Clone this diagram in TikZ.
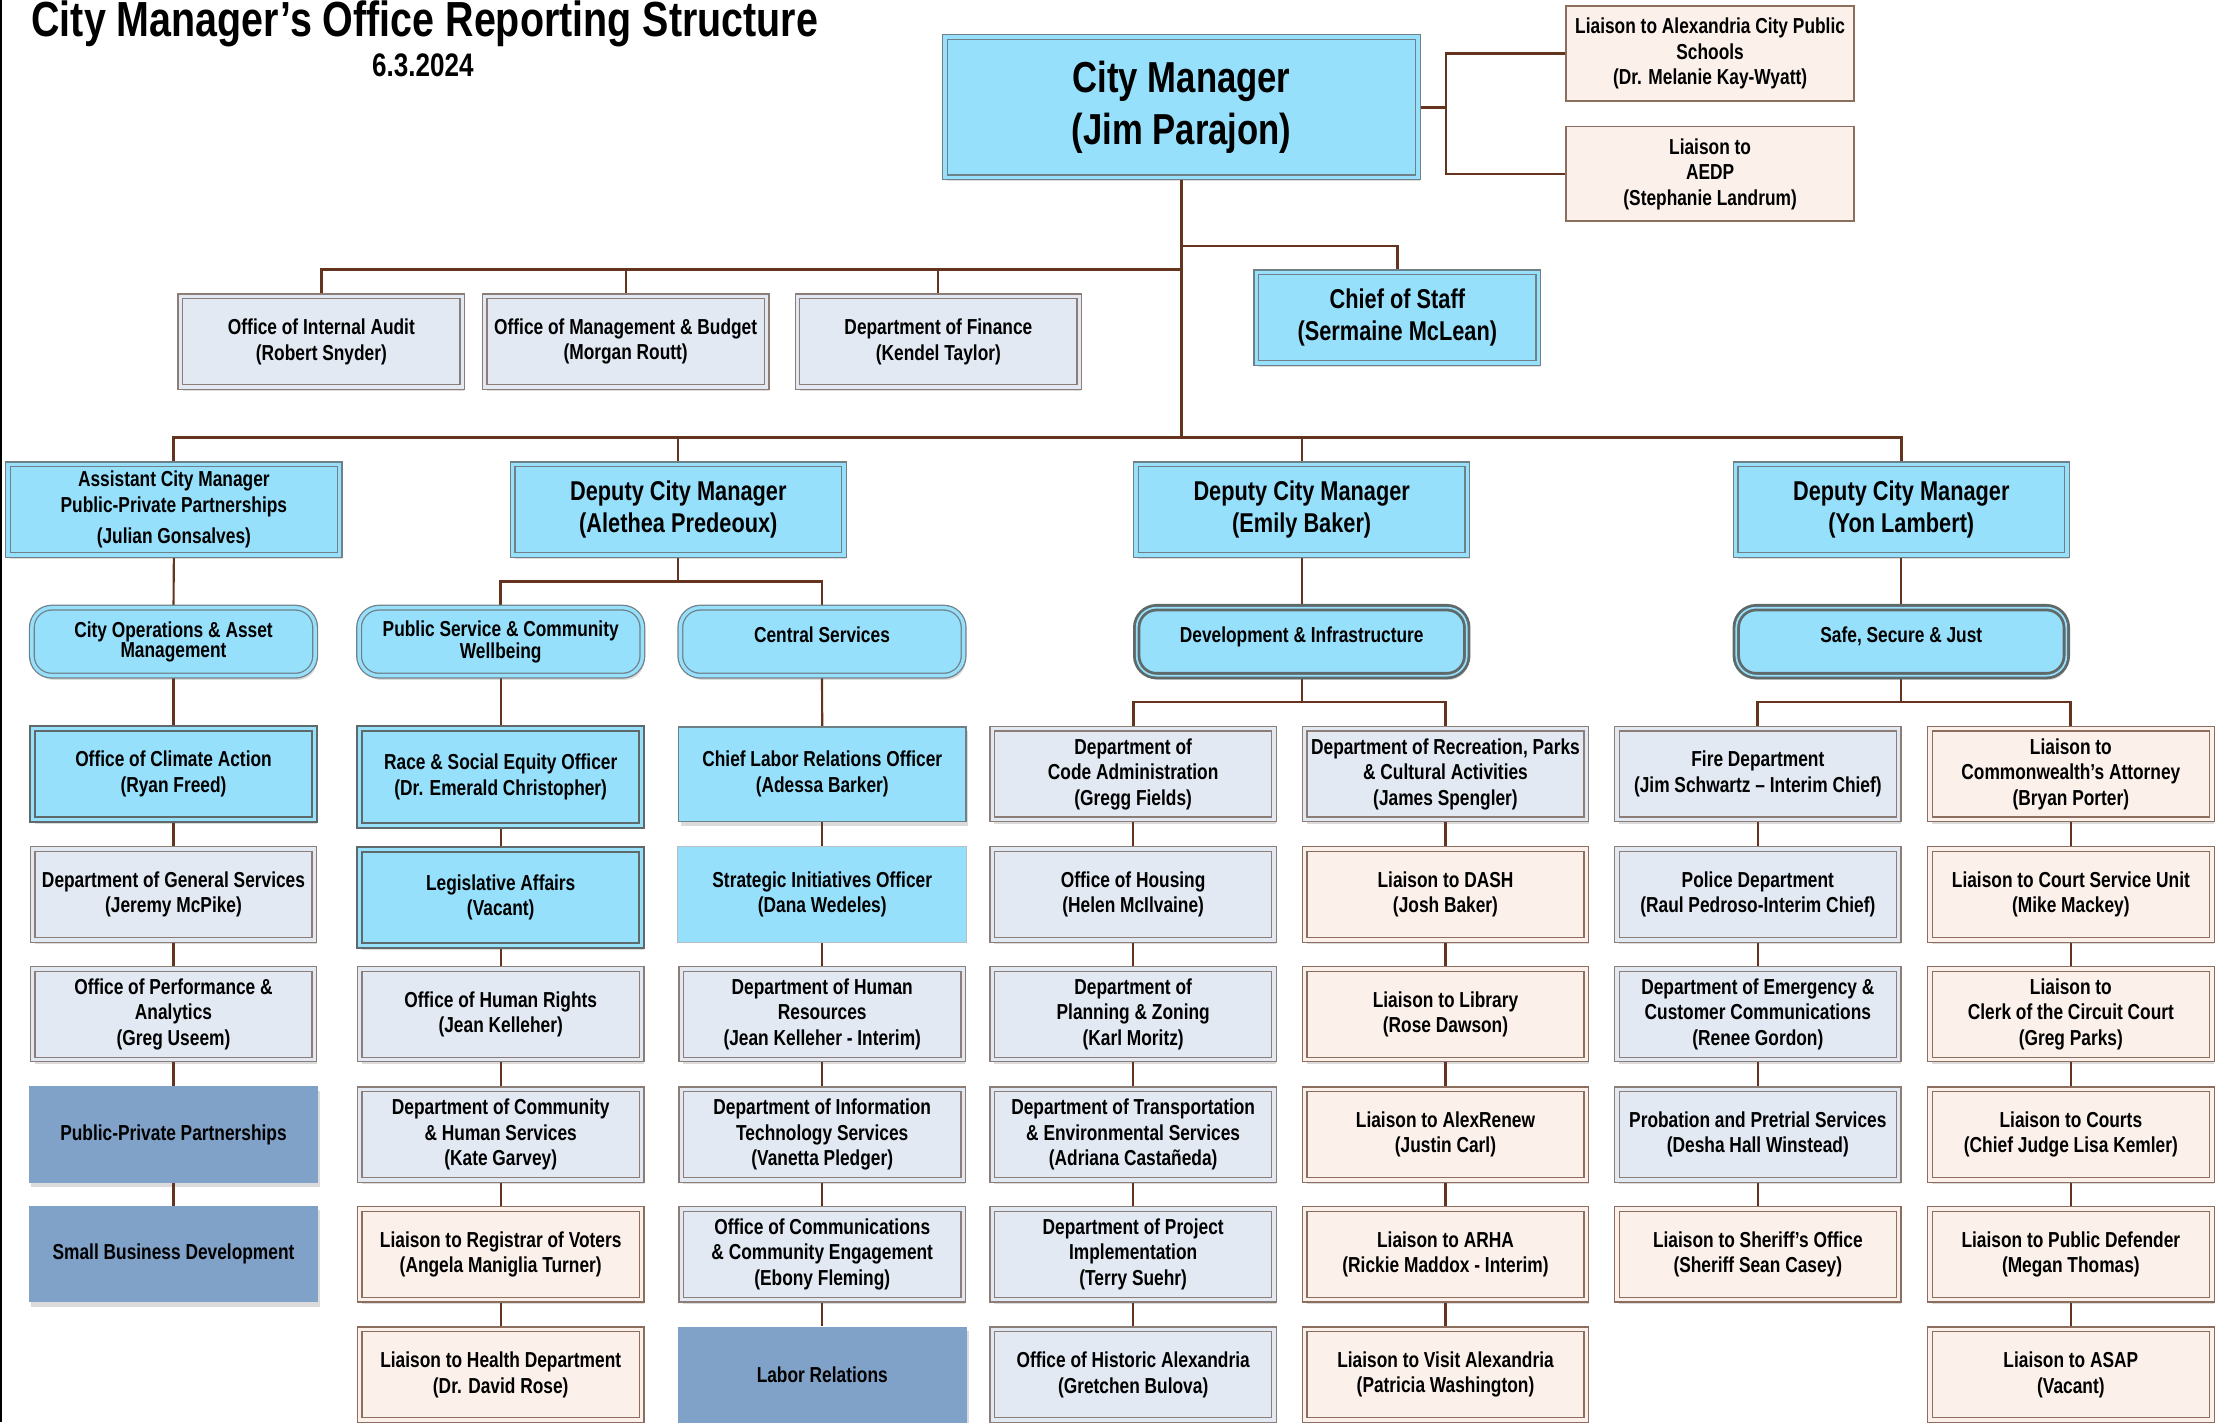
\documentclass[tikz,border=0pt]{standalone}
\usepackage{fontspec}
\newfontfamily\arn{Liberation Sans}[FakeStretch=0.8]
\usetikzlibrary{shadows,backgrounds}
\definecolor{cyanfill}{RGB}{150,224,252}
\definecolor{cyanline}{RGB}{112,128,135}
\definecolor{grayfill}{RGB}{226,233,243}
\definecolor{grayline}{RGB}{140,125,118}
\definecolor{peachfill}{RGB}{251,240,234}
\definecolor{peachline}{RGB}{140,110,95}
\definecolor{steelfill}{RGB}{128,162,201}
\definecolor{darkline}{RGB}{95,105,105}
\definecolor{conncol}{RGB}{100,52,30}
\newcommand\fsml{\arn\bfseries\fontsize{15.3}{18}\selectfont}
\newcommand\fmid{\arn\bfseries\fontsize{19.2}{23}\selectfont}
\newcommand\fbig{\arn\bfseries\fontsize{30.6}{37}\selectfont}
\newcommand\frnd{\arn\bfseries\fontsize{15.3}{14}\selectfont}
\begin{document}
\begin{tikzpicture}[x=1pt,y=-1pt,
  base/.style={align=center, inner sep=1pt, text=black, font=\fsml},
  shad/.style={drop shadow={shadow xshift=1.5pt, shadow yshift=-3pt, opacity=0.2, fill=black!70}},
  dbl/.style={line width=0.9pt, double distance=2.4pt},
  stdsize/.style={minimum width=199pt, minimum height=64pt},
  graybox/.style={base, shad, stdsize, fill=grayfill, draw=grayline, double=grayfill, dbl},
  peachbox/.style={base, shad, stdsize, fill=peachfill, draw=peachline, double=peachfill, dbl},
  peachsingle/.style={base, fill=peachfill, draw=peachline, line width=1.3pt, minimum width=203pt, minimum height=67pt},
  cyanbox/.style={base, shad, fill=cyanfill, draw=cyanline, double=cyanfill, dbl},
  cyanthick/.style={base, shad, stdsize, fill=cyanfill, draw=darkline, double=cyanfill, line width=1.5pt, double distance=2pt},
  cyansingle/.style={base, shad, minimum width=203pt, minimum height=67pt, fill=cyanfill, draw=cyanline, line width=1.2pt},
  cyanthin/.style={base, minimum width=204pt, minimum height=68pt, fill=cyanfill, draw=cyanline!50, line width=0.6pt},
  steelbox/.style={base, shad, minimum width=204pt, minimum height=68pt, fill=steelfill},
  roundbox/.style={cyanbox, font=\frnd, rounded corners=14pt, minimum width=200pt, minimum height=48pt},
  roundthick/.style={base, shad, font=\frnd, rounded corners=14pt, fill=cyanfill, draw=darkline, double=cyanfill, line width=2pt, double distance=1.2pt, minimum width=233pt, minimum height=48pt},
  conn/.style={draw=conncol, line width=1.5pt},
  trunk/.style={draw=conncol, line width=2pt}
]
\useasboundingbox (0,0) rectangle (1568,1004);
\draw[black, line width=1pt] (0.7,0) -- (0.7,1004);

% title
\node[anchor=base west, inner sep=0pt, font=\arn\bfseries\fontsize{34.8}{40}\selectfont] (title) at (22,26) {City Manager’s Office Reporting Structure};
\node[anchor=base, inner sep=0pt, font=\arn\bfseries\fontsize{23}{26}\selectfont] (date) at (298.5,54) {6.3.2024};

% top level
\node[cyanbox, font=\fbig, minimum width=334pt, minimum height=99pt] (cm) at (834.2,75.6) {City Manager\\(Jim Parajon)};
\node[peachsingle] (acps) at (1207.3,37.9) {Liaison to Alexandria City Public\\Schools\\(Dr. Melanie Kay-Wyatt)};
\node[peachsingle] (aedp) at (1207.3,122.8) {Liaison to\\AEDP\\(Stephanie Landrum)};

\node[graybox] (audit) at (226.9,241.2) {Office of Internal Audit\\(Robert Snyder)};
\node[graybox] (mgmt) at (441.7,241.2) {Office of Management \& Budget\\(Morgan Routt)};
\node[graybox] (fin) at (662.5,241.2) {Department of Finance\\(Kendel Taylor)};
\node[cyanbox, font=\fmid, minimum width=199pt, minimum height=64pt] (cos) at (986.5,224.2) {Chief of Staff\\(Sermaine McLean)};

% second level
\node[cyanbox, minimum width=234pt, minimum height=64pt] (acm) at (122.75,359.8) {Assistant City Manager\\Public-Private Partnerships\\[4pt](Julian Gonsalves)};
\node[cyanbox, font=\fmid, minimum width=234pt, minimum height=64pt] (dcma) at (478.9,359.8) {Deputy City Manager\\(Alethea Predeoux)};
\node[cyanbox, font=\fmid, minimum width=234pt, minimum height=64pt] (dcme) at (919,359.8) {Deputy City Manager\\(Emily Baker)};
\node[cyanbox, font=\fmid, minimum width=234pt, minimum height=64pt] (dcmy) at (1342.3,359.8) {Deputy City Manager\\(Yon Lambert)};

% third level
\node[roundbox] (ops) at (122.5,453) {City Operations \& Asset\\Management};
\node[roundbox] (pub) at (353.5,453) {Public Service \& Community\\Wellbeing};
\node[roundbox, text depth=10pt] (cen) at (580.3,453) {Central Services};
\node[roundthick, text depth=10pt] (dev) at (919,453) {Development \& Infrastructure};
\node[roundthick, text depth=10pt] (safe) at (1342.3,453) {Safe, Secure \& Just};

% column 1
\node[cyanthick] (c1r1) at (122.5,546.5) {Office of Climate Action\\(Ryan Freed)};
\node[graybox] (c1r2) at (122.5,631.5) {Department of General Services\\(Jeremy McPike)};
\node[graybox] (c1r3) at (122.5,716) {Office of Performance \&\\Analytics\\(Greg Useem)};
\node[steelbox] (c1r4) at (122.5,801) {Public-Private Partnerships};
\node[steelbox] (c1r5) at (122.5,885.5) {Small Business Development};

% column 2
\node[cyanthick, minimum height=68pt] (c2r1) at (353.5,548.5) {Race \& Social Equity Officer\\(Dr. Emerald Christopher)};
\node[cyanthick, minimum height=68pt] (c2r2) at (353.5,633.5) {Legislative Affairs\\(Vacant)};
\node[graybox] (c2r3) at (353.5,716) {Office of Human Rights\\(Jean Kelleher)};
\node[graybox] (c2r4) at (353.5,801) {Department of Community\\\& Human Services\\(Kate Garvey)};
\node[peachbox] (c2r5) at (353.5,885.5) {Liaison to Registrar of Voters\\(Angela Maniglia Turner)};
\node[peachbox] (c2r6) at (353.5,970.5) {Liaison to Health Department\\(Dr. David Rose)};

% column 3
\node[cyansingle] (c3r1) at (580.5,546.5) {Chief Labor Relations Officer\\(Adessa Barker)};
\node[cyanthin] (c3r2) at (580.5,631.5) {Strategic Initiatives Officer\\(Dana Wedeles)};
\node[graybox] (c3r3) at (580.5,716) {Department of Human\\Resources\\(Jean Kelleher - Interim)};
\node[graybox] (c3r4) at (580.5,801) {Department of Information\\Technology Services\\(Vanetta Pledger)};
\node[graybox] (c3r5) at (580.5,885.5) {Office of Communications\\\& Community Engagement\\(Ebony Fleming)};
\node[steelbox] (c3r6) at (580.5,970.5) {Labor Relations};

% column 4
\node[graybox] (c4r1) at (800,546.5) {Department of\\Code Administration\\(Gregg Fields)};
\node[graybox] (c4r2) at (800,631.5) {Office of Housing\\(Helen McIlvaine)};
\node[graybox] (c4r3) at (800,716) {Department of\\Planning \& Zoning\\(Karl Moritz)};
\node[graybox] (c4r4) at (800,801) {Department of Transportation\\\& Environmental Services\\(Adriana Castañeda)};
\node[graybox] (c4r5) at (800,885.5) {Department of Project\\Implementation\\(Terry Suehr)};
\node[graybox] (c4r6) at (800,970.5) {Office of Historic Alexandria\\(Gretchen Bulova)};

% column 5
\node[graybox] (c5r1) at (1020.5,546.5) {Department of Recreation, Parks\\\& Cultural Activities\\(James Spengler)};
\node[peachbox] (c5r2) at (1020.5,631.5) {Liaison to DASH\\(Josh Baker)};
\node[peachbox] (c5r3) at (1020.5,716) {Liaison to Library\\(Rose Dawson)};
\node[peachbox] (c5r4) at (1020.5,801) {Liaison to AlexRenew\\(Justin Carl)};
\node[peachbox] (c5r5) at (1020.5,885.5) {Liaison to ARHA\\(Rickie Maddox - Interim)};
\node[peachbox] (c5r6) at (1020.5,970.5) {Liaison to Visit Alexandria\\(Patricia Washington)};

% column 6
\node[graybox] (c6r1) at (1241,546.5) {Fire Department\\(Jim Schwartz – Interim Chief)};
\node[graybox] (c6r2) at (1241,631.5) {Police Department\\(Raul Pedroso-Interim Chief)};
\node[graybox] (c6r3) at (1241,716) {Department of Emergency \&\\Customer Communications\\(Renee Gordon)};
\node[graybox] (c6r4) at (1241,801) {Probation and Pretrial Services\\(Desha Hall Winstead)};
\node[peachbox] (c6r5) at (1241,885.5) {Liaison to Sheriff’s Office\\(Sheriff Sean Casey)};

% column 7
\node[peachbox] (c7r1) at (1462,546.5) {Liaison to\\Commonwealth’s Attorney\\(Bryan Porter)};
\node[peachbox] (c7r2) at (1462,631.5) {Liaison to Court Service Unit\\(Mike Mackey)};
\node[peachbox] (c7r3) at (1462,716) {Liaison to\\Clerk of the Circuit Court\\(Greg Parks)};
\node[peachbox] (c7r4) at (1462,801) {Liaison to Courts\\(Chief Judge Lisa Kemler)};
\node[peachbox] (c7r5) at (1462,885.5) {Liaison to Public Defender\\(Megan Thomas)};
\node[peachbox] (c7r6) at (1462,970.5) {Liaison to ASAP\\(Vacant)};

% junctions
\coordinate (jl) at (1020.8,75.6);
\coordinate (j174) at (834.2,173.7);
\coordinate (j190) at (834.2,190.5);
\coordinate (j309) at (834.2,309);
\coordinate (j410) at (478.9,410.6);
\coordinate (jdev) at (919,495.6);
\coordinate (jsafe) at (1342.3,495.6);

\begin{scope}[on background layer]
\draw[trunk] (cm.south) -- (j309);
\draw[trunk] (cm.east) -- (jl);
\draw[trunk] (acps.west) -| (jl);
\draw[trunk] (aedp.west) -| (jl);
\draw[trunk] (j190) -| (audit.north);
\draw[conn] (j190) -| (mgmt.north);
\draw[conn] (j190) -| (fin.north);
\draw[trunk] (j174) -| (cos.north);
\draw[trunk] (j309) -| (acm.north);
\draw[conn] (j309) -| (dcma.north);
\draw[conn] (j309) -| (dcme.north);
\draw[trunk] (j309) -| (dcmy.north);
\draw[conn] (acm.south) -- (ops.north);
\draw[conn] (dcma.south) -- (j410);
\draw[trunk] (j410) -| (pub.north);
\draw[trunk] (j410) -| (cen.north);
\draw[conn] (dcme.south) -- (dev.north);
\draw[conn] (dcmy.south) -- (safe.north);
\draw[conn] (dev.south) -- (jdev);
\draw[trunk] (jdev) -| (c4r1.north);
\draw[trunk] (jdev) -| (c5r1.north);
\draw[conn] (safe.south) -- (jsafe);
\draw[trunk] (jsafe) -| (c6r1.north);
\draw[trunk] (jsafe) -| (c7r1.north);
\draw[conn] (ops.south) -- (c1r1.north);
\draw[conn] (pub.south) -- (c2r1.north);
\draw[conn] (cen.south) -- (c3r1.north);
\foreach \c/\n in {1/5,2/6,3/6,4/6,5/6,6/5,7/6}{
  \foreach \r [evaluate=\r as \rn using int(\r+1)] in {1,...,\numexpr\n-1\relax}{
    \draw[conn] (c\c r\r.south) -- (c\c r\rn.north);
  }
}
\end{scope}
\end{tikzpicture}
\end{document}
